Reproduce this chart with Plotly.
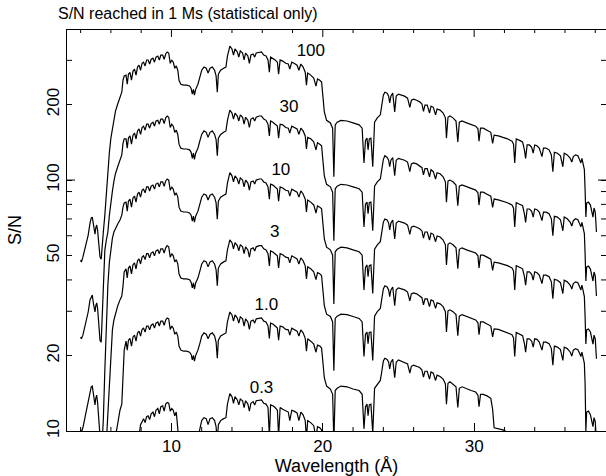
import math
import plotly.graph_objects as go

# ---------------- data ----------------
wavelength = [
    4.00, 4.05, 4.15, 4.30, 4.50, 4.62, 4.70, 4.77, 4.85, 4.95,
    5.00, 5.06, 5.12, 5.20, 5.28, 5.36, 5.43, 5.50, 5.60, 5.70,
    5.80, 5.90, 6.00, 6.10, 6.20, 6.30, 6.45, 6.60, 6.72, 6.80,
    6.88,
    7.00, 7.08, 7.16, 7.26, 7.36, 7.46, 7.56, 7.66, 7.76, 7.86,
    7.96, 8.06, 8.16, 8.26, 8.36, 8.46, 8.56, 8.66, 8.78, 8.88,
    8.98, 9.10, 9.20, 9.30, 9.42, 9.52, 9.62, 9.72, 9.82, 9.92,
    10.02, 10.12, 10.22, 10.32, 10.42, 10.50, 10.62, 10.80, 11.00, 11.20,
    11.30, 11.38, 11.45, 11.52, 11.60, 11.75, 11.90, 12.00, 12.15, 12.30,
    12.42, 12.55, 12.70, 12.85, 12.95, 13.03, 13.10, 13.25, 13.45, 13.60,
    13.70, 13.78, 13.86, 14.00, 14.10, 14.20, 14.35, 14.45, 14.55, 14.70,
    14.80, 14.90, 15.05, 15.15, 15.25, 15.40, 15.50, 15.60, 15.80, 15.95,
    16.10, 16.25, 16.38, 16.47, 16.55, 16.70, 16.85, 17.00, 17.08, 17.18,
    17.35, 17.55, 17.72, 17.82, 17.95, 18.10, 18.30, 18.42, 18.55, 18.70,
    18.84, 18.92, 19.00, 19.20, 19.40, 19.55, 19.65, 19.80, 19.92, 20.00,
    20.10, 20.25, 20.50, 20.65, 20.73, 20.82, 20.95, 21.20, 21.60, 22.00,
    22.40, 22.60, 22.72, 22.82, 22.92, 22.99, 23.07, 23.18, 23.30, 23.42,
    23.60, 23.80, 23.90, 24.00, 24.10, 24.25, 24.35, 24.42, 24.50, 24.62,
    24.75, 24.85, 25.00, 25.20, 25.40, 25.60, 25.75, 25.85, 26.00, 26.20,
    26.40, 26.55, 26.65, 26.75, 26.90, 27.05, 27.15, 27.30, 27.45, 27.55,
    27.75, 27.95, 28.10, 28.17, 28.27, 28.40, 28.60, 28.80, 28.92, 29.02,
    29.20, 29.50, 29.80, 30.10, 30.25, 30.32, 30.42, 30.60, 30.85, 31.10,
    31.22, 31.32, 31.60, 31.90, 32.20, 32.50, 32.60, 32.68, 32.78, 33.00,
    33.20, 33.32, 33.40, 33.50, 33.65, 33.80, 33.90, 34.00, 34.15, 34.30,
    34.48, 34.58, 34.75, 34.95, 35.10, 35.20, 35.30, 35.50, 35.70, 35.86,
    35.95, 36.15, 36.35, 36.45, 36.55, 36.70, 36.85, 36.98, 37.05, 37.12,
    37.20, 37.28, 37.33, 37.38, 37.43, 37.55, 37.68, 37.78, 37.85, 37.92,
    38.00, 38.08,
]

sn_100 = [
    48.0, 47.1, 49.3, 53.6, 60.4, 67.4, 70.6, 71.2, 65.6, 60.9,
    64.4, 66.2, 63.2, 55.1, 49.3, 48.4, 57.7, 62.1, 72.5, 89.6,
    108, 129, 147, 161, 177, 188, 201, 214, 224, 250,
    260,
    262, 241, 264, 269, 250, 272, 277, 262, 282, 287,
    274, 292, 295, 285, 301, 301, 290, 303, 306, 295,
    309, 312, 301, 315, 315, 303, 318, 324, 321, 292,
    301, 295, 279, 285, 274, 250, 241, 239, 239, 237,
    232, 220, 230, 218, 230, 241, 260, 274, 282, 279,
    267, 279, 282, 274, 260, 224, 264, 274, 279, 282,
    312, 333, 342, 333, 315, 333, 324, 309, 327, 321,
    301, 321, 312, 292, 315, 318, 309, 321, 324, 324,
    315, 312, 301, 269, 309, 306, 301, 295, 264, 301,
    298, 292, 290, 277, 295, 292, 287, 274, 290, 282,
    269, 239, 267, 262, 255, 237, 253, 250, 246, 218,
    187, 173, 169, 161, 103, 166, 170, 173, 172, 169,
    166, 161, 117, 144, 147, 132, 146, 147, 113, 170,
    177, 182, 199, 218, 224, 222, 216, 203, 216, 222,
    187, 216, 220, 218, 216, 212, 195, 208, 210, 208,
    205, 201, 188, 199, 199, 185, 197, 195, 182, 192,
    190, 185, 177, 147, 178, 180, 177, 172, 142, 170,
    172, 169, 167, 164, 160, 143, 161, 161, 158, 155,
    140, 151, 150, 148, 146, 143, 139, 117, 146, 144,
    142, 132, 122, 138, 138, 135, 128, 138, 137, 134,
    124, 134, 134, 132, 126, 108, 129, 128, 125, 113,
    128, 126, 122, 118, 124, 126, 125, 120, 117, 122,
    115, 110, 91.2, 71.2, 81.0, 81.7, 79.5, 74.6, 71.2, 77.4,
    74.6, 62.1,
]

sn_30 = [
    23.7, 23.3, 24.1, 26.4, 29.8, 33.3, 34.5, 34.8, 32.1, 29.8,
    31.5, 32.4, 30.9, 26.4, 23.0, 22.6, 28.2, 40.0, 52.6, 57.7,
    62.1, 72.5, 82.5, 90.4, 99.1, 106, 113, 120, 126, 140,
    146,
    146, 134, 147, 150, 139, 151, 154, 146, 157, 160,
    152, 162, 164, 158, 167, 167, 161, 168, 170, 164,
    172, 173, 167, 175, 175, 168, 177, 180, 178, 162,
    167, 164, 155, 158, 152, 139, 134, 133, 133, 132,
    129, 122, 128, 121, 128, 134, 145, 152, 157, 155,
    148, 155, 157, 152, 145, 125, 147, 152, 155, 157,
    173, 185, 190, 185, 175, 185, 180, 172, 182, 178,
    167, 178, 173, 162, 175, 177, 172, 178, 180, 180,
    175, 173, 167, 150, 172, 170, 167, 164, 147, 167,
    166, 162, 161, 154, 164, 162, 160, 152, 161, 157,
    150, 133, 148, 146, 142, 132, 141, 139, 137, 121,
    104, 96.2, 94.0, 89.5, 57.3, 92.3, 94.5, 96.2, 95.6, 94.0,
    92.3, 89.5, 65.1, 80.1, 81.7, 73.4, 81.2, 81.7, 62.8, 94.5,
    98.4, 101, 111, 121, 125, 123, 120, 113, 120, 123,
    104, 120, 122, 121, 120, 118, 108, 116, 117, 116,
    114, 112, 105, 111, 111, 103, 110, 108, 101, 107,
    106, 103, 98.4, 81.7, 99.0, 100, 98.4, 95.6, 79.0, 94.5,
    95.6, 94.0, 92.9, 91.2, 89.0, 79.5, 89.5, 89.5, 87.8, 86.2,
    77.8, 84.0, 83.4, 82.3, 81.2, 79.5, 77.3, 65.1, 81.2, 80.1,
    79.0, 73.4, 67.8, 76.7, 76.7, 75.1, 71.2, 76.7, 76.2, 74.5,
    68.9, 74.5, 74.5, 73.4, 70.1, 60.0, 71.7, 71.2, 69.5, 62.8,
    71.2, 70.1, 67.8, 65.6, 68.9, 70.1, 69.5, 66.7, 65.1, 67.8,
    63.9, 61.2, 50.7, 39.6, 45.0, 45.4, 44.2, 41.5, 39.6, 43.0,
    41.5, 34.5,
]

sn_10 = [
    10.1, 9.9, 10.3, 11.5, 13.0, 14.4, 15.0, 15.1, 13.9, 12.7,
    13.5, 13.9, 13.0, 10.8, 8.8, 8.2, 9.2, 11.1, 17.5, 27.7,
    38.2, 47.1, 53.6, 58.7, 62.1, 64.4, 66.8, 69.3, 72.5, 78.1,
    81.0,
    81.7, 75.2, 82.4, 83.9, 78.0, 84.9, 86.4, 81.7, 88.0, 89.5,
    85.5, 91.1, 92.0, 88.9, 93.9, 93.9, 90.5, 94.5, 95.5, 92.0,
    96.4, 97.3, 93.9, 98.3, 98.3, 94.5, 99.2, 101, 100, 91.1,
    93.9, 92.0, 87.0, 88.9, 85.5, 78.0, 75.2, 74.6, 74.6, 73.9,
    72.4, 68.6, 71.8, 68.0, 71.8, 75.2, 81.1, 85.5, 88.0, 87.0,
    83.3, 87.0, 88.0, 85.5, 81.1, 69.9, 82.4, 85.5, 87.0, 88.0,
    97.3, 104, 107, 104, 98.3, 104, 101, 96.4, 102, 100,
    93.9, 100, 97.3, 91.1, 98.3, 99.2, 96.4, 100, 101, 101,
    98.3, 97.3, 93.9, 83.9, 96.4, 95.5, 93.9, 92.0, 82.4, 93.9,
    93.0, 91.1, 90.5, 86.4, 92.0, 91.1, 89.5, 85.5, 90.5, 88.0,
    83.9, 74.6, 83.3, 81.7, 79.6, 73.9, 78.9, 78.0, 76.8, 68.0,
    58.3, 54.0, 52.7, 50.2, 32.1, 51.8, 53.0, 54.0, 53.7, 52.7,
    51.8, 50.2, 36.5, 44.9, 45.9, 41.2, 45.6, 45.9, 35.3, 53.0,
    55.2, 56.8, 62.1, 68.0, 69.9, 69.3, 67.4, 63.3, 67.4, 69.3,
    58.3, 67.4, 68.6, 68.0, 67.4, 66.1, 60.8, 64.9, 65.5, 64.9,
    64.0, 62.7, 58.7, 62.1, 62.1, 57.7, 61.5, 60.8, 56.8, 59.9,
    59.3, 57.7, 55.2, 45.9, 55.5, 56.2, 55.2, 53.7, 44.3, 53.0,
    53.7, 52.7, 52.1, 51.2, 49.9, 44.6, 50.2, 50.2, 49.3, 48.4,
    43.7, 47.1, 46.8, 46.2, 45.6, 44.6, 43.4, 36.5, 45.6, 44.9,
    44.3, 41.2, 38.1, 43.1, 43.1, 42.1, 39.9, 43.1, 42.7, 41.8,
    38.7, 41.8, 41.8, 41.2, 39.3, 33.7, 40.2, 39.9, 39.0, 35.3,
    39.9, 39.3, 38.1, 36.8, 38.7, 39.3, 39.0, 37.4, 36.5, 38.1,
    35.9, 34.3, 28.5, 22.2, 25.3, 25.5, 24.8, 23.3, 22.2, 24.1,
    23.3, 19.4,
]

sn_3 = [
    None, None, None, None, None, None, None, None, None, None,
    None, None, None, None, None, None, None, None, 7.0, 9.2,
    11.6, 16.0, 22.0, 25.3, 27.7, 29.5, 31.5, 33.3, 34.5, 37.8,
    43.0,
    44.3, 40.7, 44.6, 45.5, 42.3, 46.0, 46.8, 44.3, 47.7, 48.5,
    46.3, 49.3, 49.9, 48.2, 50.9, 50.9, 49.0, 51.2, 51.7, 49.9,
    52.2, 52.7, 50.9, 53.2, 53.2, 51.2, 53.7, 54.8, 54.2, 49.3,
    50.9, 49.9, 47.2, 48.2, 46.3, 42.3, 40.7, 40.4, 40.4, 40.1,
    39.2, 37.2, 38.9, 36.8, 38.9, 40.7, 43.9, 46.3, 47.7, 47.2,
    45.1, 47.2, 47.7, 46.3, 43.9, 37.9, 44.6, 46.3, 47.2, 47.7,
    52.7, 56.3, 57.8, 56.3, 53.2, 56.3, 54.8, 52.2, 55.3, 54.2,
    50.9, 54.2, 52.7, 49.3, 53.2, 53.7, 52.2, 54.2, 54.8, 54.8,
    53.2, 52.7, 50.9, 45.5, 52.2, 51.7, 50.9, 49.9, 44.6, 50.9,
    50.4, 49.3, 49.0, 46.8, 49.9, 49.3, 48.5, 46.3, 49.0, 47.7,
    45.5, 40.4, 45.1, 44.3, 43.1, 40.1, 42.8, 42.3, 41.6, 36.8,
    31.6, 29.2, 28.6, 27.2, 17.4, 28.1, 28.7, 29.2, 29.1, 28.6,
    28.1, 27.2, 19.8, 24.3, 24.8, 22.3, 24.7, 24.8, 19.1, 28.7,
    29.9, 30.8, 33.6, 36.8, 37.9, 37.5, 36.5, 34.3, 36.5, 37.5,
    31.6, 36.5, 37.2, 36.8, 36.5, 35.8, 33.0, 35.2, 35.5, 35.2,
    34.6, 34.0, 31.8, 33.6, 33.6, 31.3, 33.3, 33.0, 30.8, 32.4,
    32.1, 31.3, 29.9, 24.8, 30.1, 30.4, 29.9, 29.1, 24.0, 28.7,
    29.1, 28.6, 28.2, 27.7, 27.0, 24.2, 27.2, 27.2, 26.7, 26.2,
    23.7, 25.5, 25.4, 25.0, 24.7, 24.2, 23.5, 19.8, 24.7, 24.3,
    24.0, 22.3, 20.6, 23.3, 23.3, 22.8, 21.6, 23.3, 23.2, 22.6,
    21.0, 22.6, 22.6, 22.3, 21.3, 18.3, 21.8, 21.6, 21.1, 19.1,
    21.6, 21.3, 20.6, 19.9, 21.0, 21.3, 21.1, 20.3, 19.8, 20.6,
    19.4, 18.6, 15.4, 10.0, 11.9, 12.0, 11.6, 10.9, 10.4, 11.3,
    10.9, 9.0,
]

sn_1 = [
    None, None, None, None, None, None, None, None, None, None,
    None, None, None, None, None, None, None, None, None, None,
    None, None, None, None, 7.5, 9.5, 10.7, 12.1, 12.8, 15.9,
    21.0,
    22.8, 21.0, 23.0, 23.4, 21.8, 23.7, 24.1, 22.8, 24.6, 25.0,
    23.9, 25.4, 25.7, 24.8, 26.2, 26.2, 25.3, 26.4, 26.7, 25.7,
    26.9, 27.2, 26.2, 27.4, 27.4, 26.4, 27.7, 28.2, 28.0, 25.4,
    26.2, 25.7, 24.3, 24.8, 23.9, 21.8, 21.0, 20.8, 20.8, 20.6,
    20.2, 19.2, 20.0, 19.0, 20.0, 21.0, 22.6, 23.9, 24.6, 24.3,
    23.3, 24.3, 24.6, 23.9, 22.6, 19.5, 23.0, 23.9, 24.3, 24.6,
    27.2, 29.0, 29.8, 29.0, 27.4, 29.0, 28.2, 26.9, 28.5, 28.0,
    26.2, 28.0, 27.2, 25.4, 27.4, 27.7, 26.9, 28.0, 28.2, 28.2,
    27.4, 27.2, 26.2, 23.4, 26.9, 26.7, 26.2, 25.7, 23.0, 26.2,
    26.0, 25.4, 25.3, 24.1, 25.7, 25.4, 25.0, 23.9, 25.3, 24.6,
    23.4, 20.8, 23.3, 22.8, 22.2, 20.6, 22.0, 21.8, 21.4, 19.0,
    16.3, 15.1, 14.7, 14.0, 9.0, 14.5, 14.8, 15.1, 15.0, 14.7,
    14.5, 14.0, 10.2, 12.5, 12.8, 11.5, 12.7, 12.8, 9.8, 14.8,
    15.4, 15.9, 17.3, 19.0, 19.5, 19.3, 18.8, 17.7, 18.8, 19.3,
    16.3, 18.8, 19.2, 19.0, 18.8, 18.5, 17.0, 18.1, 18.3, 18.1,
    17.9, 17.5, 16.4, 17.3, 17.3, 16.1, 17.2, 17.0, 15.9, 16.7,
    16.5, 16.1, 15.4, 12.8, 15.5, 15.7, 15.4, 15.0, 12.4, 14.8,
    15.0, 14.7, 14.5, 14.3, 13.9, 12.5, 14.0, 14.0, 13.8, 13.5,
    12.2, 10.3, 10.2, 10.1, 9.9, 9.7, 9.5, 8.0, 9.9, 9.8,
    9.7, 9.0, 8.3, 9.4, 9.4, 9.2, 8.7, 9.4, 9.3, 9.1,
    8.4, 9.1, 9.1, 9.0, 8.6, 7.3, 8.8, 8.7, 8.5, 7.7,
    8.7, 8.6, 8.3, 8.0, 8.4, 8.6, 8.5, 8.2, 8.0, 8.3,
    7.8, 7.5, 6.2, None, None, None, None, None, None, None,
    None, None,
]

sn_03 = [
    None, None, None, None, None, None, None, None, None, None,
    None, None, None, None, None, None, None, None, None, None,
    None, None, None, None, None, None, None, None, None, None,
    None,
    None, None, None, None, None, None, None, 8.0, 9.0, 9.6,
    10.6, 11.0, 11.2, 10.8, 11.4, 11.5, 11.1, 11.7, 11.9, 11.4,
    12.1, 12.3, 11.7, 12.5, 12.6, 12.0, 12.8, 13.0, 12.9, 12.0,
    12.3, 12.1, 11.5, 11.9, 10.5, 9.0, 8.6, 8.5, 8.5, 8.6,
    8.6, 8.3, 8.6, 8.3, 8.8, 9.4, 10.5, 11.0, 11.3, 11.2,
    10.6, 11.2, 11.3, 11.0, 10.4, 9.0, 10.6, 11.0, 11.2, 11.3,
    12.8, 13.7, 14.1, 13.7, 12.9, 13.7, 13.3, 12.7, 13.4, 13.2,
    12.4, 13.2, 12.8, 12.0, 12.9, 13.1, 12.7, 13.2, 13.3, 13.3,
    12.9, 12.8, 12.4, 9.5, 12.7, 12.6, 12.4, 12.1, 9.5, 12.4,
    12.2, 12.0, 11.9, 11.0, 12.1, 12.0, 11.8, 11.0, 11.9, 11.6,
    11.0, 9.3, 11.0, 10.8, 10.5, 9.4, 10.4, 10.3, 10.1, 8.5,
    7.0, None, None, None, None, None, None, None, None, None,
    None, None, None, None, None, None, None, None, None, None,
    None, None, None, None, None, None, None, None, None, None,
    None, None, None, None, None, None, None, None, None, None,
    None, None, None, None, None, None, None, None, None, None,
    None, None, None, None, None, None, None, None, None, None,
    None, None, None, None, None, None, None, None, None, None,
    None, None, None, None, None, None, None, None, None, None,
    None, None, None, None, None, None, None, None, None, None,
    None, None, None, None, None, None, None, None, None, None,
    None, None, None, None, None, None, None, None, None, None,
    None, None, None, None, None, None, None, None, None, None,
    None, None,
]

curve_labels = ["100", "30", "10", "3", "1.0", "0.3"]
label_wavelength = [19.21, 17.76, 17.23, 16.83, 16.27, 15.95]
label_sn = [325, 193.6, 108.6, 61.8, 31.5, 14.8]

x_major_ticks = [10, 20, 30]
x_minor_ticks = [4, 6, 8, 12, 14, 16, 18, 22, 24, 26, 28, 32, 34, 36, 38]
y_label_ticks = [10, 20, 50, 100, 200]
y_minor_ticks = [30, 40, 60, 70, 80, 90, 300]
y_decade_ticks = [100]

series = [sn_100, sn_30, sn_10, sn_3, sn_1, sn_03]
for s in series:
    assert len(s) == len(wavelength), (len(s), len(wavelength))

# ---------------- figure ----------------
FONT = "Liberation Sans, Arial, Helvetica, sans-serif"
W, H = 606, 476
ML, MR, MT, MB = 67, 0, 29, 45
PW = W - ML - MR
PH = H - MT - MB
XR = [3.10, 38.71]
YR = [1, math.log10(400)]
MAJ, MIN, YT = 8, 4, 5
PX_PER_X = PW / (XR[1] - XR[0])          # pixels per Angstrom
PX_PER_DEC = PH / (YR[1] - YR[0])        # pixels per decade

fig = go.Figure()
for lab, s in zip(curve_labels, series):
    fig.add_trace(go.Scatter(
        x=wavelength, y=s, mode="lines", name=lab,
        line=dict(color="black", width=1.2),
        connectgaps=False, showlegend=False, hoverinfo="skip",
    ))

# curve labels drawn as a text trace
fig.add_trace(go.Scatter(
    x=label_wavelength, y=label_sn, mode="text", text=curve_labels,
    textposition="middle center",
    textfont=dict(family=FONT, size=17, color="black"),
    showlegend=False, hoverinfo="skip",
))

# ---- axis frame pieces (top frame line and the minor / long tick marks),
#      derived from the axis ranges and the tick lists above ----
frame_x, frame_y = [], []


def seg(x0, y0, x1, y1):
    frame_x.extend([x0, x1, None])
    frame_y.extend([y0, y1, None])


y_bottom = 10 ** YR[0]
y_top = 10 ** YR[1]
y_top_in = 10 ** (YR[1] - 0.5 / PX_PER_DEC)
seg(XR[0], y_top_in, XR[1], y_top_in)                       # top frame line
for v in x_major_ticks:                                      # top major ticks
    seg(v, y_top, v, 10 ** (YR[1] - MAJ / PX_PER_DEC))
for v in x_minor_ticks:                                      # top & bottom minor
    seg(v, y_top, v, 10 ** (YR[1] - MIN / PX_PER_DEC))
    seg(v, y_bottom, v, 10 ** (YR[0] + MIN / PX_PER_DEC))
for v in y_minor_ticks:                                      # left & right minor
    seg(XR[0], v, XR[0] + YT / PX_PER_X, v)
    seg(XR[1] - YT / PX_PER_X, v, XR[1], v)
for v in y_decade_ticks:                                     # long decade ticks
    seg(XR[0], v, XR[0] + MAJ / PX_PER_X, v)
    seg(XR[1] - MAJ / PX_PER_X, v, XR[1], v)

fig.add_trace(go.Scatter(
    x=frame_x, y=frame_y, mode="lines",
    line=dict(color="black", width=1),
    connectgaps=False, showlegend=False, hoverinfo="skip",
))

fig.update_layout(
    width=W, height=H,
    margin=dict(l=ML, r=MR, t=MT, b=MB, pad=0),
    paper_bgcolor="white", plot_bgcolor="white",
    font=dict(family=FONT, size=17, color="black"),
    title=dict(text="S/N reached in 1 Ms (statistical only)",
               x=58 / W, xanchor="left", xref="container",
               y=1 - 13 / H, yanchor="middle",
               font=dict(family=FONT, size=16, color="black")),
    xaxis=dict(
        range=XR, showgrid=False, zeroline=False,
        showline=True, linecolor="black",
        ticks="inside", ticklen=MAJ, tickcolor="black",
        tickmode="array", tickvals=x_major_ticks,
        ticktext=[str(v) for v in x_major_ticks],
        title=dict(text="Wavelength (Å)", standoff=2,
                   font=dict(family=FONT, size=18)),
        tickfont=dict(family=FONT, size=17),
    ),
    yaxis=dict(
        type="log", range=YR, showgrid=False, zeroline=False,
        showline=True, linecolor="black", mirror="ticks",
        ticks="inside", ticklen=YT, tickcolor="black",
        tickmode="array", tickvals=y_label_ticks,
        ticktext=[str(v) for v in y_label_ticks], tickangle=-90,
        title=dict(text="S/N", standoff=17, font=dict(family=FONT, size=18)),
        tickfont=dict(family=FONT, size=17),
    ),
)

fig.write_html("out.html")
